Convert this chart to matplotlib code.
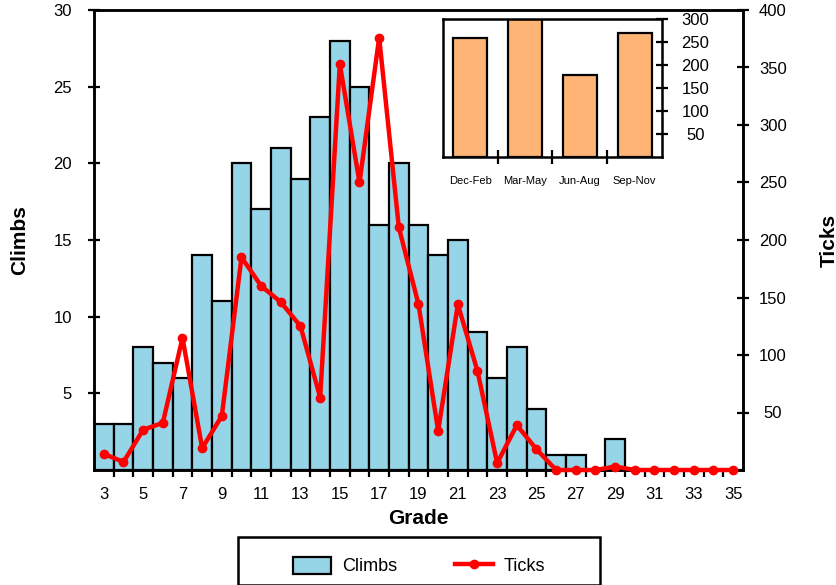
import numpy as np
import matplotlib
matplotlib.use('Agg')
import matplotlib.pyplot as plt
from matplotlib.patches import Rectangle
from matplotlib.lines import Line2D

plt.rcParams['font.family'] = ['Liberation Sans', 'DejaVu Sans']

# datos
grades = list(range(3, 36))
climbs = [3, 3, 8, 7, 6, 14, 11, 20, 17, 21, 19, 23, 28, 25, 16, 20, 16,
          14, 15, 9, 6, 8, 4, 1, 1, 0, 2, 0, 0, 0, 0, 0, 0]
ticks = [14, 7, 35, 41, 115, 19, 47, 185, 160, 146, 125, 63, 353, 250, 376,
         211, 144, 34, 144, 86, 6, 39, 18, 0, 0, 0, 3, 0, 0, 0, 0, 0, 0]
grade_labels = [str(g) for g in grades if g % 2 == 1]

seasons = ['Dec-Feb', 'Mar-May', 'Jun-Aug', 'Sep-Nov']
season_ticks = [259, 300, 178, 269]

blue = '#96D4E7'
orange = '#FDB474'

fig = plt.figure(figsize=(8.37, 5.85), dpi=100)
ax = fig.add_axes([94/837, 1 - 470/585, 649/837, 460/585])

ax.bar(grades, climbs, width=1.0, color=blue, edgecolor='black', linewidth=1.6, zorder=1)
ax.set_xlim(2.5, 35.5)
ax.set_ylim(0, 30)
ax.set_yticks([5, 10, 15, 20, 25, 30])
ax.set_xticks([g for g in grades if g % 2 == 1])
ax.set_xticklabels(grade_labels)
ax.set_xticks([g + 0.5 for g in grades[:-1]], minor=True)
ax.tick_params(axis='x', which='major', length=0, pad=12, labelsize=12)
ax.tick_params(axis='x', which='minor', direction='out', length=5, width=1.6)
ax.tick_params(axis='y', direction='inout', length=8, width=1.6, pad=12, labelsize=12)
for s in ax.spines.values():
    s.set_linewidth(1.8)
ax.set_xlabel('Grade', fontsize=15, fontweight='bold', labelpad=5)
ax.set_ylabel('Climbs', fontsize=15, fontweight='bold')
ax.yaxis.set_label_coords(-0.10, 0.5)

ax2 = ax.twinx()
ax2.plot(grades, ticks, color='red', linewidth=3.2, marker='o', markersize=6, zorder=3, clip_on=False)
ax2.set_ylim(0, 400)
ax2.set_yticks([50, 100, 150, 200, 250, 300, 350, 400])
ax2.tick_params(axis='y', direction='inout', length=8, width=1.6, pad=17.5, labelsize=12)
for lab in ax2.get_yticklabels():
    lab.set_horizontalalignment('center')
for s in ax2.spines.values():
    s.set_linewidth(1.8)
ax2.set_ylabel('Ticks', fontsize=15, fontweight='bold')
ax2.yaxis.set_label_coords(1.118, 0.5)

# grafico pequeño por temporada
ins = fig.add_axes([443/837, 1 - 157/585, 219/837, 138/585])
ins.bar(range(4), season_ticks, width=0.62, color=orange, edgecolor='black', linewidth=1.6)
ins.set_xlim(-0.5, 3.5)
ins.set_ylim(0, 300)
ins.yaxis.tick_right()
ins.set_yticks([50, 100, 150, 200, 250, 300])
ins.tick_params(axis='y', direction='inout', length=8, width=1.6, pad=20, labelsize=12)
for lab in ins.get_yticklabels():
    lab.set_horizontalalignment('center')
ins.set_xticks(range(4))
ins.set_xticklabels(seasons)
ins.set_xticks([0.5, 1.5, 2.5], minor=True)
ins.tick_params(axis='x', which='major', length=0, pad=14, labelsize=8)
ins.tick_params(axis='x', which='minor', direction='inout', length=10, width=1.6)
for s in ins.spines.values():
    s.set_linewidth(1.8)

# leyenda con marco propio
fig.patches.append(Rectangle((238/837, 0), 362/837, 1 - 537/585, transform=fig.transFigure,
                             fill=False, edgecolor='black', linewidth=1.8))
handles = [Rectangle((0, 0), 1, 1, facecolor=blue, edgecolor='black', linewidth=1.6),
           Line2D([], [], color='red', linewidth=3.2, marker='o', markersize=6)]
fig.legend(handles, ['Climbs', 'Ticks'], loc='center', bbox_to_anchor=(419/837, 1 - 566/585),
           ncol=2, frameon=False, fontsize=13, handlelength=2.1, handleheight=1.1,
           columnspacing=3.2, numpoints=1, handletextpad=0.6)

fig.savefig('out.png', dpi=100)
